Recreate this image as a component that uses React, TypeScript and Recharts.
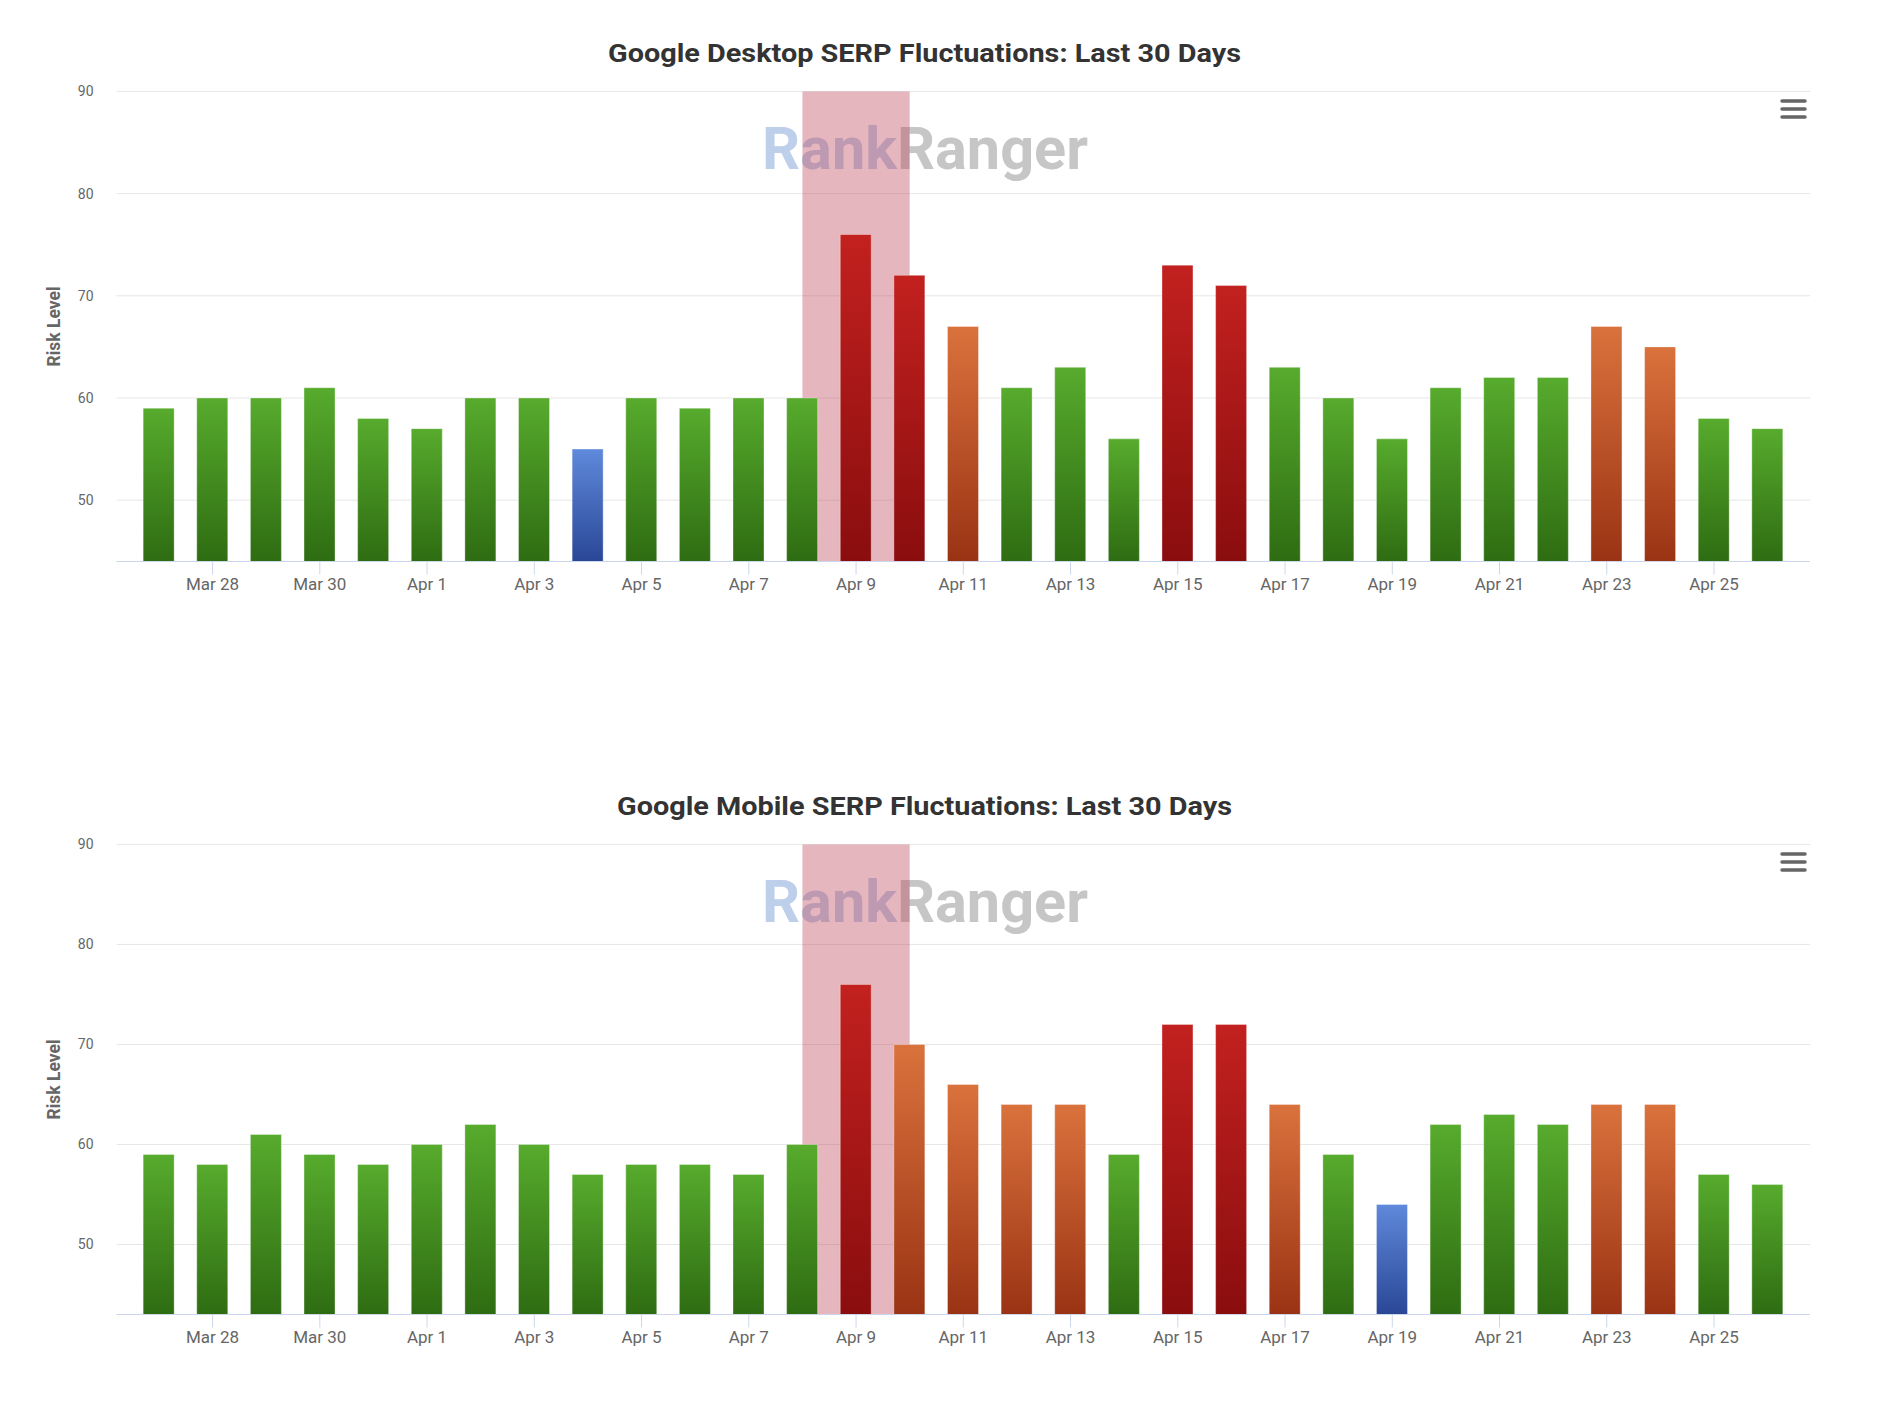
import React from 'react';
import { BarChart, Bar, Cell, XAxis, YAxis, CartesianGrid, ReferenceArea } from 'recharts';

/* Google SERP fluctuation charts (desktop + mobile), last 30 days */

const dates = [
  'Mar 27', 'Mar 28', 'Mar 29', 'Mar 30', 'Mar 31',
  'Apr 1', 'Apr 2', 'Apr 3', 'Apr 4', 'Apr 5', 'Apr 6', 'Apr 7', 'Apr 8', 'Apr 9', 'Apr 10',
  'Apr 11', 'Apr 12', 'Apr 13', 'Apr 14', 'Apr 15', 'Apr 16', 'Apr 17', 'Apr 18', 'Apr 19', 'Apr 20',
  'Apr 21', 'Apr 22', 'Apr 23', 'Apr 24', 'Apr 25', 'Apr 26',
];

const desktopValues = [
  59, 60, 60, 61, 58, 57, 60, 60, 55, 60, 59, 60, 60, 76, 72, 67,
  61, 63, 56, 73, 71, 63, 60, 56, 61, 62, 62, 67, 65, 58, 57,
];

const mobileValues = [
  59, 58, 61, 59, 58, 60, 62, 60, 57, 58, 58, 57, 60, 76, 70, 66,
  64, 64, 59, 72, 72, 64, 59, 54, 62, 63, 62, 64, 64, 57, 56,
];

const yTicks = [50, 60, 70, 80, 90];
const desktopYMin = 44;
const mobileYMin = 43;
const yMax = 90;

// highlighted period (plot band), from mid Apr 8 to mid Apr 10
const bandDates = ['Apr 8', 'Apr 10'];

// risk colour thresholds: <=55 low, <=63 normal, <=70 high, above that very high
const levelLimits = { low: 55, normal: 63, high: 70 };

const gradients: Record<string, [string, string]> = {
  blue: ['#5f89db', '#2a4796'],
  green: ['#57ab2d', '#2e6c12'],
  orange: ['#da723d', '#9a3313'],
  red: ['#c2211f', '#8a0d0e'],
};

const levelOf = (v: number) => {
  if (v <= levelLimits.low) return 'blue';
  if (v <= levelLimits.normal) return 'green';
  if (v <= levelLimits.high) return 'orange';
  return 'red';
};

const CHART_W = 1849;
const CHART_H = 640;
const FONT = 'Roboto, "Open Sans", sans-serif';

interface SerpChartProps {
  id: string;
  title: string;
  titleWidth: number;
  values: number[];
  yMin: number;
  top: number;
}

function SerpChart({ id, title, titleWidth, values, yMin, top }: SerpChartProps) {
  const data = dates.map((d, i) => ({ idx: i, date: d, value: values[i] }));
  const xTicks = dates.map((_, i) => i).filter((i) => i % 2 === 1);
  const bandFrom = dates.indexOf(bandDates[0]);
  const bandTo = dates.indexOf(bandDates[1]);

  return (
    <div style={{ position: 'absolute', left: 0, top, width: CHART_W, height: CHART_H }}>
      {/* watermark sits under the chart svg */}
      <svg width={CHART_W} height={CHART_H} style={{ position: 'absolute', left: 0, top: 0 }}>
        <text
          x={762}
          y={169}
          fontFamily={FONT}
          fontWeight={700}
          fontSize={59}
          textLength={326}
          lengthAdjust="spacingAndGlyphs"
        >
          <tspan fill="#bdcfeb">Rank</tspan>
          <tspan fill="#c6c6c6">Ranger</tspan>
        </text>
      </svg>

      <div style={{ position: 'absolute', left: 0, top: 0 }}>
        <BarChart
          width={CHART_W}
          height={CHART_H}
          data={data}
          margin={{ top: 91.4, right: 39, bottom: 38.5, left: 30 }}
        >
          <defs>
            {Object.keys(gradients).map((k) => (
              <linearGradient key={k} id={`${id}-${k}`} x1="0" y1="0" x2="0" y2="1">
                <stop offset="0%" stopColor={gradients[k][0]} />
                <stop offset="100%" stopColor={gradients[k][1]} />
              </linearGradient>
            ))}
          </defs>
          <CartesianGrid vertical={false} stroke="#e6e6e6" />
          <ReferenceArea
            x1={bandFrom}
            x2={bandTo}
            fill="#be485c"
            fillOpacity={0.4}
            stroke="none"
            ifOverflow="extendDomain"
          />
          <XAxis
            dataKey="idx"
            type="number"
            domain={[-0.79, 30.79]}
            ticks={xTicks}
            interval={0}
            allowDataOverflow
            height={40}
            tickFormatter={(v: number) => dates[v]}
            axisLine={{ stroke: '#ccd6eb' }}
            tickLine={{ stroke: '#ccd6eb' }}
            tickSize={13}
            tickMargin={3}
            tick={{ fontSize: 17, fill: '#666666', fontFamily: FONT }}
          />
          <YAxis
            type="number"
            domain={[yMin, yMax]}
            ticks={yTicks}
            interval={0}
            allowDataOverflow
            width={86.6}
            axisLine={false}
            tickLine={false}
            tickSize={0}
            tickMargin={23}
            tick={{ fontSize: 14, fill: '#666666', fontFamily: FONT }}
            label={(props: any) => {
              const vb = props.viewBox || { x: 30, y: 91.4, height: 470 };
              const cx = vb.x + 24.5;
              const cy = vb.y + vb.height / 2;
              return (
                <text
                  x={cx}
                  y={cy}
                  transform={`rotate(-90, ${cx}, ${cy})`}
                  textAnchor="middle"
                  dominantBaseline="central"
                  fontFamily={FONT}
                  fontWeight={700}
                  fontSize={17.5}
                  fill="#666666"
                >
                  Risk Level
                </text>
              );
            }}
          />
          <Bar
            dataKey="value"
            barSize={31}
            stroke="rgba(255,255,255,0.35)"
            strokeWidth={1}
            isAnimationActive={false}
          >
            {data.map((d) => (
              <Cell key={d.date} fill={`url(#${id}-${levelOf(d.value)})`} />
            ))}
          </Bar>
        </BarChart>
      </div>

      {/* title and menu icon on top */}
      <svg
        width={CHART_W}
        height={CHART_H}
        style={{ position: 'absolute', left: 0, top: 0, pointerEvents: 'none' }}
      >
        <text
          x={924.5}
          y={62}
          textAnchor="middle"
          fontFamily={FONT}
          fontWeight={700}
          fontSize={26.5}
          textLength={titleWidth}
          lengthAdjust="spacingAndGlyphs"
          fill="#333333"
        >
          {title}
        </text>
        <g stroke="#666666" strokeWidth={3.5} strokeLinecap="round">
          <line x1={1782} y1={101} x2={1805} y2={101} />
          <line x1={1782} y1={109} x2={1805} y2={109} />
          <line x1={1782} y1={117} x2={1805} y2={117} />
        </g>
      </svg>
    </div>
  );
}

export default function App() {
  return (
    <div style={{ position: 'absolute', left: 0, top: 0, width: 1885, height: 1405, background: '#ffffff', fontFamily: FONT }}>
      <SerpChart
        id="desktop"
        title="Google Desktop SERP Fluctuations: Last 30 Days"
        titleWidth={633}
        values={desktopValues}
        yMin={desktopYMin}
        top={0}
      />
      <SerpChart
        id="mobile"
        title="Google Mobile SERP Fluctuations: Last 30 Days"
        titleWidth={615}
        values={mobileValues}
        yMin={mobileYMin}
        top={752.6}
      />
    </div>
  );
}
